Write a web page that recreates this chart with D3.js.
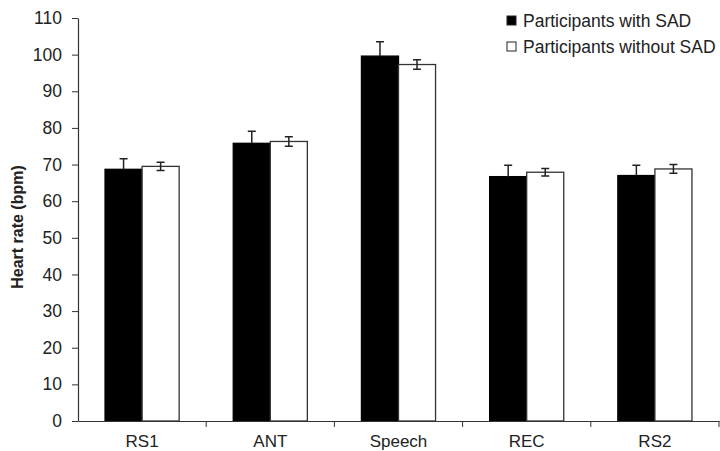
<!DOCTYPE html>
<html>
<head>
<meta charset="utf-8">
<script src="https://cdn.jsdelivr.net/npm/d3@7"></script>
<style>
  body { margin: 0; background: #fff; }
  text { font-family: "Liberation Sans", Arial, sans-serif; fill: #222; }
</style>
</head>
<body>
<div id="chart"></div>
<script>
// Heart rate by phase, participants with vs. without SAD.
const phases = ["RS1", "ANT", "Speech", "REC", "RS2"];
const seriesNames = ["Participants with SAD", "Participants without SAD"];
const sadMeans = [68.7, 75.8, 99.6, 66.7, 67.0];
const sadErr = [2.9, 3.3, 3.9, 3.1, 2.8];
const noSadMeans = [69.5, 76.3, 97.3, 67.9, 68.8];
const noSadErr = [1.1, 1.3, 1.3, 1.0, 1.2];
const yTicks = d3.range(0, 111, 10);

let margin = {top: 18, right: 1, bottom: 30, left: 78},
    width = 720 - margin.left - margin.right,
    height = 421 - margin.top;

let svg = d3.select("#chart").append("svg")
    .attr("width", 720)
    .attr("height", 451)
  .append("g")
    .attr("transform", `translate(${margin.left},${margin.top})`);

let x0 = d3.scaleBand()
    .domain(phases)
    .range([0, width])
    .padding(0);

let x1 = d3.scaleBand()
    .domain([0, 1])
    .range([0, x0.bandwidth()])
    .paddingInner(0)
    .paddingOuter(0.73);

let y = d3.scaleLinear()
    .domain([0, 110])
    .range([height, 0]);

// Bars.
let rows = phases.map((p, i) => ({
  phase: p,
  vals: [
    {s: 0, mean: sadMeans[i], err: sadErr[i]},
    {s: 1, mean: noSadMeans[i], err: noSadErr[i]}
  ]
}));

let groups = svg.selectAll("g.grp")
  .data(rows)
  .join("g")
    .attr("class", "grp")
    .attr("transform", d => `translate(${x0(d.phase)},0)`);

groups.selectAll("rect")
  .data(d => d.vals)
  .join("rect")
    .attr("x", d => x1(d.s))
    .attr("y", d => y(d.mean))
    .attr("width", x1.bandwidth())
    .attr("height", d => height - y(d.mean))
    .attr("fill", d => d.s === 0 ? "#000" : "#fff")
    .attr("stroke", d => d.s === 0 ? "#000" : "#333")
    .attr("stroke-width", 1.3);

// Error bars: SAD drawn upward only, without SAD both ways.
let cap = 4;
groups.selectAll("path.err")
  .data(d => d.vals)
  .join("path")
    .attr("class", "err")
    .attr("fill", "none")
    .attr("stroke", "#222")
    .attr("stroke-width", 1.5)
    .attr("d", d => {
      let cx = x1(d.s) + x1.bandwidth() / 2;
      let top = y(d.mean + d.err);
      let bot = d.s === 0 ? y(d.mean) : y(d.mean - d.err);
      let p = `M${cx},${bot}V${top}M${cx - cap},${top}H${cx + cap}`;
      if (d.s === 1) p += `M${cx - cap},${bot}H${cx + cap}`;
      return p;
    });

// Axes.
let xAxis = svg.append("g")
    .attr("transform", `translate(0,${height})`)
    .call(d3.axisBottom(x0).tickSize(0).tickSizeOuter(0));
xAxis.selectAll(".tick text")
    .style("font-family", "'Liberation Sans', Arial, sans-serif")
    .style("font-size", "17px")
    .attr("dy", 0)
    .attr("y", 26);
xAxis.selectAll(".tick line").remove();
// Boundary ticks.
xAxis.selectAll("line.bnd")
  .data(phases.map(p => x0(p) + x0.bandwidth()))
  .join("line")
    .attr("class", "bnd")
    .attr("x1", d => d).attr("x2", d => d)
    .attr("y1", 0).attr("y2", 6)
    .attr("stroke", "#333");

let yAxis = svg.append("g")
    .call(d3.axisLeft(y).tickValues(yTicks).tickSize(6).tickSizeOuter(0).tickPadding(16));
yAxis.selectAll(".tick text")
    .style("font-family", "'Liberation Sans', Arial, sans-serif")
    .style("font-size", "17.5px")
    .attr("x", -16);

svg.selectAll(".domain, .tick line").attr("stroke", "#333");
svg.selectAll("path.domain").attr("stroke-width", 1.2);

// Y axis title.
svg.append("text")
    .attr("transform", `translate(${17 - margin.left},${227 - margin.top}) rotate(-90)`)
    .attr("text-anchor", "middle")
    .attr("dy", "0.35em")
    .style("font-size", "16px")
    .attr("font-weight", "bold")
    .text("Heart rate (bpm)");

// Legend.
let legend = svg.append("g")
    .attr("transform", `translate(${507 - margin.left},${0})`);
let li = legend.selectAll("g")
  .data(seriesNames)
  .join("g")
    .attr("transform", (d, i) => `translate(0,${i * 26})`);
li.append("rect")
    .attr("x", 0).attr("y", -2)
    .attr("width", 9).attr("height", 9)
    .attr("fill", (d, i) => i === 0 ? "#000" : "#fff")
    .attr("stroke", "#222")
    .attr("stroke-width", 1);
li.append("text")
    .attr("x", 16)
    .attr("y", 9)
    .style("font-size", "17.5px")
    .text(d => d);
</script>
</body>
</html>
